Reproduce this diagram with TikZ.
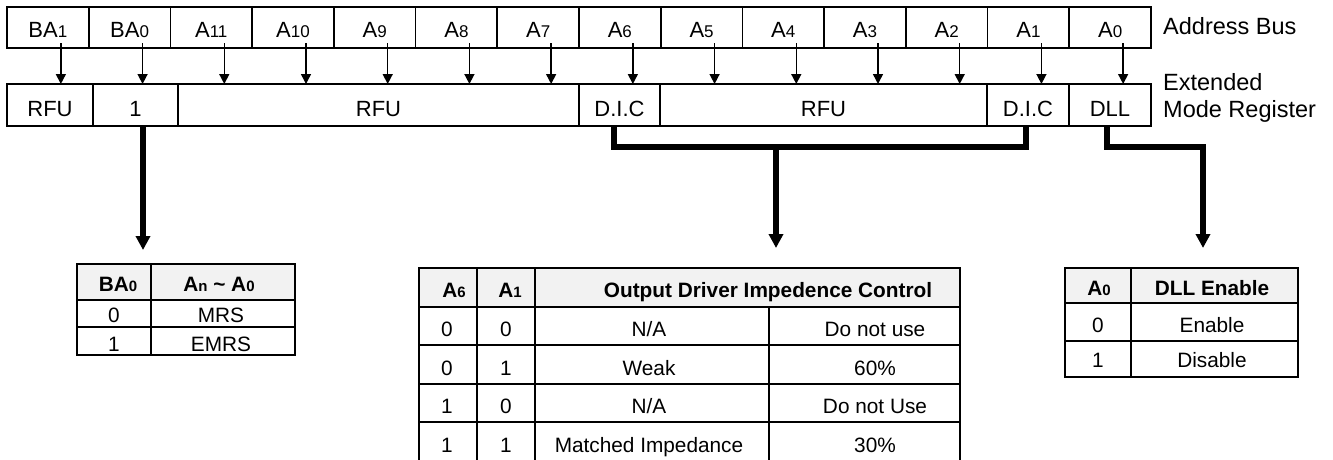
\documentclass[tikz,border=0pt]{standalone}
\usepackage{fontspec}
\setmainfont{Liberation Sans}
\usetikzlibrary{arrows.meta,calc}
\newcommand\regfont{\fontsize{22}{26}\selectfont}
\newcommand\subf[1]{{\fontsize{17}{20}\selectfont #1}}
\newcommand\tabfont{\fontsize{20.8}{24}\selectfont}
\newcommand\tsub[1]{{\fontsize{15}{18}\selectfont #1}}
\begin{document}
\begin{tikzpicture}[x=1pt,y=-1pt,
  buscell/.style={draw, line width=1.8pt, minimum width=81.714pt, minimum height=41pt,
    inner sep=0pt, outer sep=0pt, text height=19.7pt, text depth=0pt, font=\regfont},
  regcell/.style={draw, line width=2.2pt, minimum height=42pt,
    inner sep=0pt, outer sep=0pt, text height=22pt, text depth=0pt, font=\regfont},
  thinarr/.style={line width=1.5pt, -{Triangle[width=10pt,length=10pt]}},
  thickln/.style={line width=5.5pt},
  thickarr/.style={line width=5.5pt, -{Triangle[width=14pt,length=14pt]}},
  tabframe/.style={draw, line width=2pt, inner sep=0pt, outer sep=0pt},
  tabline/.style={line width=2pt},
  hdrfill/.style={fill=black!5},
  tabtxt/.style={anchor=base, inner sep=0pt, font=\tabfont},
  tabhd/.style={anchor=base, inner sep=0pt, font=\tabfont\bfseries},
  lbl/.style={inner sep=0pt, font=\fontsize{23.5}{27}\selectfont}
]
\useasboundingbox (0,0) rectangle (1333,459);

% Address bus row
\foreach \lab [count=\i from 0] in {{BA\subf{1}},{BA\subf{0}},{A\subf{11}},{A\subf{10}},{A\subf{9}},{A\subf{8}},{A\subf{7}},{A\subf{6}},{A\subf{5}},{A\subf{4}},{A\subf{3}},{A\subf{2}},{A\subf{1}},{A\subf{0}}}
  \node[buscell] (b\i) at ({7+81.714*(\i+0.5)},27.5) {\lab};

% Extended mode register row
\node[regcell, minimum width=86pt]  (r0)   at (50,105)    {RFU};
\node[regcell, minimum width=85pt]  (one)  at (135.5,105) {1};
\node[regcell, minimum width=401pt] (r1)   at (378.5,105) {RFU};
\node[regcell, minimum width=81pt]  (dic1) at (619.5,105) {D.I.C};
\node[regcell, minimum width=327pt] (r2)   at (823.5,105) {RFU};
\node[regcell, minimum width=82pt]  (dic2) at (1028,105)  {D.I.C};
\node[regcell, minimum width=82pt]  (dll)  at (1110,105)  {DLL};

% side labels
\node[lbl, anchor=base west] (ab) at (1163,34) {Address Bus};
\node[lbl, anchor=north west, align=left] (emr) at (1163,73.5) {Extended\\Mode Register};

% thin arrows bus -> register
\foreach \i in {0,...,13} {
  \coordinate (s\i) at ([xshift=13pt]b\i.south);
  \draw[thinarr] ([xshift=13pt,yshift=5pt]b\i.south) -- (s\i |- r0.north);
}

% arrow end points
\coordinate (onetip) at (143,250);
\coordinate (dicj)   at (776,145);
\coordinate (dictip) at (776,248);
\coordinate (dlltip) at (1203,248);

% thick connectors
\draw[thickarr] ([xshift=7.5pt]one.south) -- (onetip);
\draw[thickln] ([xshift=-5.5pt]dic1.south) -- ++(0,21) -| ([xshift=-2pt]dic2.south);
\draw[thickarr] (dicj) -- (dictip);
\draw[thickarr] ([xshift=-3pt]dll.south) -- ++(0,21) -| (dlltip);

% ---- left table ----
\fill[hdrfill] (77,264) rectangle (295,300);
\draw[tabline] (77,300) -- (295,300) (77,327) -- (295,327) (151,264) -- (151,355);
\node[tabframe, minimum width=218pt, minimum height=91pt] (tl) at (186,309.5) {};
\node[tabhd] (tl-h1) at (118,291) {BA\tsub{0}};
\node[tabhd] (tl-h2) at (219,291) {A\tsub{n} \textasciitilde{} A\tsub{0}};
\node[tabtxt] (tl-a1) at (114,322) {0};
\node[tabtxt] (tl-b1) at (221,322) {MRS};
\node[tabtxt] (tl-a2) at (114,351) {1};
\node[tabtxt] (tl-b2) at (221,351) {EMRS};

% ---- middle table ----
\fill[hdrfill] (419,268) rectangle (960,307);
\draw[tabline] (419,307) -- (960,307) (419,345) -- (960,345) (419,384) -- (960,384) (419,422) -- (960,422)
  (477,268) -- (477,461) (535,268) -- (535,461) (769,307) -- (769,461);
\node[tabframe, minimum width=541pt, minimum height=193pt] (tm) at (689.5,364.5) {};
\node[tabhd] (tm-h1) at (454,297) {A\tsub{6}};
\node[tabhd] (tm-h2) at (510,297) {A\tsub{1}};
\node[tabhd] (tm-h3) at (768,297) {Output Driver Impedence Control};
\node[tabtxt] at (447,336) {0}; \node[tabtxt] at (506,336) {0};
\node[tabtxt] at (649,336) {N/A}; \node[tabtxt] at (875,336) {Do not use};
\node[tabtxt] at (447,375) {0}; \node[tabtxt] at (506,375) {1};
\node[tabtxt] at (649,375) {Weak}; \node[tabtxt] at (875,375) {60\%};
\node[tabtxt] at (447,413) {1}; \node[tabtxt] at (506,413) {0};
\node[tabtxt] at (649,413) {N/A}; \node[tabtxt] at (875,413) {Do not Use};
\node[tabtxt] at (447,452) {1}; \node[tabtxt] at (506,452) {1};
\node[tabtxt] at (649,452) {Matched Impedance}; \node[tabtxt] at (875,452) {30\%};

% ---- right table ----
\fill[hdrfill] (1065,268) rectangle (1298,303);
\draw[tabline] (1065,303) -- (1298,303) (1065,341) -- (1298,341) (1131,268) -- (1131,377);
\node[tabframe, minimum width=233pt, minimum height=109pt] (tr) at (1181.5,322.5) {};
\node[tabhd] (tr-h1) at (1099,295) {A\tsub{0}};
\node[tabhd] (tr-h2) at (1212,295) {DLL Enable};
\node[tabtxt] at (1098,332) {0}; \node[tabtxt] at (1212,332) {Enable};
\node[tabtxt] at (1098,367) {1}; \node[tabtxt] at (1212,367) {Disable};
\end{tikzpicture}
\end{document}
